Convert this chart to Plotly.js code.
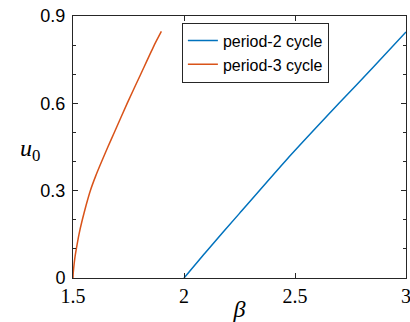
<!DOCTYPE html>
<html><head><meta charset="utf-8">
<script src="https://cdn.plot.ly/plotly-3.0.1.min.js"></script>
<style>html,body{margin:0;padding:0;background:#fff}#plot{width:410px;height:322px}</style>
</head><body><div id="plot"></div>
<script>
const beta2 = [2.0, 2.095, 2.25, 2.458, 2.698, 2.85, 3.0];
const u2 = [0.0, 0.086, 0.222, 0.403, 0.600, 0.722, 0.845];
const beta3 = [1.5, 1.5004, 1.5013, 1.5053, 1.5095, 1.515, 1.527, 1.542, 1.559, 1.578, 1.602, 1.629, 1.657, 1.686, 1.744, 1.805, 1.866, 1.898];
const u3 = [0.0, 0.01, 0.02, 0.05, 0.075, 0.1, 0.15, 0.2, 0.25, 0.3, 0.35, 0.4, 0.45, 0.5, 0.6, 0.7, 0.8, 0.847];
const names = ['period-2 cycle', 'period-3 cycle'];
const xTicks = [1.5, 2, 2.5, 3];
const yTicks = [0, 0.3, 0.6, 0.9];

const axisCol = '#262626';
const traces = [
  {x: beta2, y: u2, mode: 'lines', name: names[0], line: {color: '#0072BD', width: 1.5, shape: 'spline', smoothing: 0.6}},
  {x: beta3, y: u3, mode: 'lines', name: names[1], line: {color: '#D95319', width: 1.5, shape: 'spline', smoothing: 0.5}}
];
const layout = {
  width: 410, height: 322,
  margin: {l: 73, r: 4, t: 16, b: 44},
  paper_bgcolor: '#fff', plot_bgcolor: '#fff',
  showlegend: true,
  legend: {x: 0.327, y: 0.975, xanchor: 'left', yanchor: 'top',
    bordercolor: axisCol, borderwidth: 1, bgcolor: '#fff',
    font: {family: 'Liberation Sans, Arial', size: 16, color: '#000'},
    tracegroupgap: 0},
  xaxis: {range: [1.5, 3], tickvals: xTicks, ticktext: xTicks.map(String),
    ticks: 'inside', ticklen: 5, tickcolor: axisCol, showline: true, linecolor: axisCol,
    linewidth: 1, mirror: 'ticks', showgrid: false, zeroline: false, ticklabeloverflow: 'allow',
    tickfont: {family: 'Liberation Serif, Times New Roman', size: 20, color: '#000'},
    title: {text: '<i>β</i>', font: {family: 'Liberation Serif, Times New Roman', size: 24, color: '#000'}, standoff: 0}},
  yaxis: {range: [0, 0.9], tickvals: yTicks, ticktext: ['0', '0.3', '0.6', '0.9'],
    ticks: 'inside', ticklen: 5, tickcolor: axisCol, showline: true, linecolor: axisCol,
    linewidth: 1, mirror: 'ticks', showgrid: false, zeroline: false, ticklabeloverflow: 'allow',
    ticklabelstandoff: 3,
    minor: {dtick: 0.1, tick0: 0, ticks: 'inside', ticklen: 3, tickcolor: axisCol, showgrid: false},
    tickfont: {family: 'Liberation Sans, Arial', size: 18, color: '#000'}},
  annotations: [{text: '<i>u</i><sub>0</sub>', xref: 'paper', yref: 'paper', x: -0.129, y: 0.49,
    xanchor: 'center', yanchor: 'middle', showarrow: false,
    font: {family: 'Liberation Serif, Times New Roman', size: 24, color: '#000'}}]
};
Plotly.newPlot('plot', traces, layout, {displayModeBar: false, staticPlot: true});
</script></body></html>
